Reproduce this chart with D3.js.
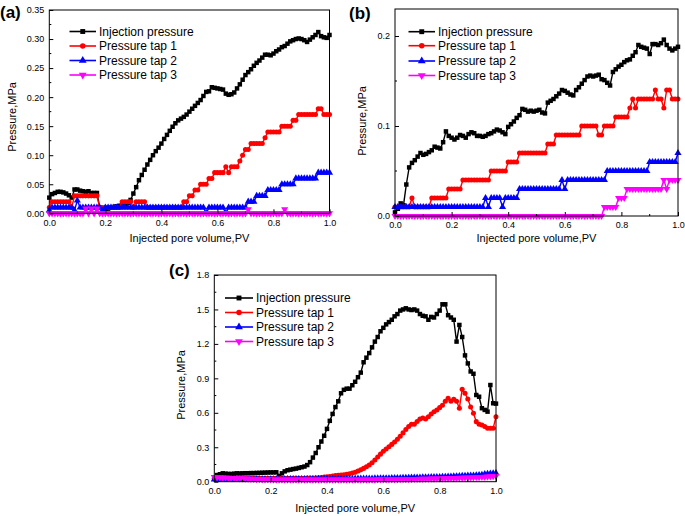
<!DOCTYPE html>
<html><head><meta charset="utf-8">
<script src="https://cdn.jsdelivr.net/npm/d3@7"></script>
<style>body{margin:0;background:#fff}svg{display:block;font-family:"Liberation Sans",Arial,sans-serif}</style>
</head><body><svg id="c" width="685" height="516"></svg>
<script>
// Injected pore volume sampling positions (PV)
const pv = d3.range(0, 101).map(i => i / 100);
const xTicks = [0, 0.2, 0.4, 0.6, 0.8, 1.0];
const seriesNames = ["Injection pressure", "Pressure tap 1", "Pressure tap 2", "Pressure tap 3"];

// ---- Panel (a) ----
const aInjection = [0.027,0.033,0.035,0.037,0.037,0.036,0.034,0.031,0.027,0.041,0.041,0.039,0.038,0.037,0.038,0.035,0.035,0.035,0.010,0.008,
0.007,0.008,0.010,0.011,0.012,0.013,0.014,0.016,0.018,0.023,0.034,0.045,0.057,0.066,0.075,0.084,0.092,0.100,0.107,0.113,
0.120,0.128,0.135,0.142,0.149,0.155,0.160,0.163,0.166,0.170,0.175,0.180,0.185,0.190,0.195,0.202,0.209,0.210,0.217,0.216,
0.215,0.214,0.213,0.206,0.204,0.205,0.208,0.215,0.222,0.230,0.238,0.243,0.248,0.254,0.259,0.263,0.268,0.273,0.273,0.272,
0.275,0.279,0.282,0.286,0.288,0.292,0.296,0.298,0.300,0.301,0.300,0.298,0.295,0.299,0.303,0.307,0.312,0.305,0.303,0.302,0.307];
const aTap1 = [0.01,0.02,0.02,0.02,0.02,0.02,0.02,0.02,0.01,0.03,0.03,0.03,0.03,0.03,0.03,0.03,0.03,0.03,0.01,0.01,
0.01,0.01,0.01,0.01,0.01,0.01,0.02,0.02,0.02,0.02,0.01,0.02,0.02,0.02,0.02,0.01,0.01,0.01,0.01,0.01,
0.01,0.01,0.01,0.01,0.01,0.01,0.01,0.01,0.02,0.02,0.03,0.03,0.04,0.04,0.05,0.05,0.05,0.06,0.06,0.07,
0.07,0.07,0.07,0.08,0.07,0.08,0.08,0.08,0.09,0.10,0.11,0.11,0.12,0.12,0.12,0.12,0.12,0.13,0.14,0.14,
0.14,0.14,0.14,0.15,0.15,0.15,0.15,0.16,0.16,0.17,0.17,0.17,0.17,0.17,0.17,0.17,0.18,0.18,0.17,0.17,0.17];
const aTap2 = [0.005,0.01,0.01,0.01,0.01,0.01,0.01,0.01,0.01,0.005,0.022,0.01,0.01,0.01,0.01,0.01,0.01,0.01,0.01,0.005,
0.01,0.01,0.01,0.01,0.01,0.01,0.01,0.01,0.01,0.01,0.01,0.01,0.01,0.01,0.01,0.01,0.01,0.01,0.01,0.01,
0.01,0.01,0.01,0.01,0.01,0.01,0.01,0.01,0.01,0.01,0.01,0.01,0.01,0.01,0.01,0.01,0.0,0.01,0.01,0.01,
0.01,0.01,0.01,0.0,0.01,0.01,0.01,0.01,0.01,0.01,0.01,0.02,0.02,0.02,0.03,0.03,0.03,0.03,0.04,0.04,
0.04,0.04,0.04,0.05,0.05,0.05,0.05,0.05,0.06,0.06,0.06,0.06,0.06,0.06,0.06,0.06,0.07,0.07,0.07,0.07,0.07];
const aTap3 = [0,0,0,0,0,0,0,0,0,0,0,0,0,0.008,0,0.008,0,0.008,0,0,
0,0,0,0,0,0,0,0,0,0,0,0,0,0,0,0,0,0,0,0,
0,0,0,0,0,0,0,0,0,0,0,0,0,0,0,0,0,0,0,0,
0,0,0,0,0,0,0,0,0,0,0,0.007,0,0,0,0,0,0,0,0,
0,0,0,0,0.007,0,0,0,0,0,0,0,0,0,0,0,0,0,0,0,0];

// ---- Panel (b) ----
const bInjection = [0.004,0.008,0.014,0.012,0.035,0.054,0.059,0.062,0.066,0.070,0.068,0.069,0.071,0.073,0.077,0.076,0.075,0.082,0.094,0.089,
0.087,0.085,0.087,0.090,0.089,0.087,0.091,0.093,0.092,0.089,0.089,0.088,0.089,0.091,0.092,0.094,0.096,0.095,0.093,0.091,
0.099,0.102,0.105,0.109,0.112,0.119,0.118,0.116,0.117,0.116,0.117,0.118,0.115,0.114,0.126,0.128,0.130,0.133,0.136,0.140,
0.139,0.137,0.135,0.134,0.140,0.143,0.147,0.151,0.155,0.156,0.155,0.156,0.157,0.152,0.151,0.148,0.145,0.160,0.163,0.166,
0.168,0.171,0.173,0.174,0.178,0.182,0.190,0.188,0.187,0.186,0.180,0.191,0.191,0.190,0.192,0.196,0.190,0.186,0.184,0.186,0.188];
const bTap1 = [0.01,0.01,0.01,0.01,0.01,0.01,0.02,0.01,0.01,0.01,0.01,0.01,0.01,0.02,0.02,0.02,0.02,0.02,0.02,0.03,
0.03,0.03,0.03,0.03,0.04,0.04,0.04,0.04,0.04,0.04,0.04,0.04,0.04,0.04,0.05,0.05,0.05,0.05,0.05,0.05,
0.06,0.06,0.06,0.06,0.07,0.07,0.07,0.07,0.07,0.07,0.07,0.07,0.07,0.07,0.08,0.08,0.08,0.09,0.09,0.09,
0.09,0.09,0.09,0.09,0.09,0.09,0.10,0.10,0.10,0.10,0.10,0.10,0.09,0.09,0.10,0.10,0.10,0.10,0.11,0.11,
0.11,0.11,0.11,0.12,0.13,0.12,0.13,0.13,0.13,0.13,0.13,0.13,0.14,0.13,0.13,0.12,0.14,0.14,0.13,0.13,0.13];
const bTap2 = [0.01,0.01,0.01,0.01,0.01,0.01,0.01,0.01,0.01,0.01,0.01,0.01,0.01,0.01,0.01,0.01,0.01,0.01,0.01,0.01,
0.01,0.01,0.01,0.01,0.01,0.01,0.01,0.01,0.01,0.01,0.01,0.01,0.02,0.01,0.02,0.02,0.02,0.02,0.01,0.02,
0.02,0.02,0.02,0.02,0.03,0.03,0.03,0.03,0.03,0.03,0.03,0.03,0.03,0.03,0.03,0.03,0.03,0.03,0.03,0.04,
0.03,0.04,0.04,0.04,0.04,0.04,0.04,0.04,0.04,0.04,0.04,0.04,0.04,0.04,0.04,0.05,0.05,0.05,0.05,0.05,
0.05,0.05,0.05,0.05,0.05,0.05,0.05,0.05,0.05,0.05,0.06,0.06,0.06,0.06,0.06,0.06,0.06,0.06,0.06,0.06,0.07];
const bTap3 = [0,0,0,0,0,0,0,0,0,0,0,0,0,0,0,0,0,0,0,0,
0,0,0,0,0,0,0,0,0,0,0,0,0,0,0,0,0,0,0,0,
0,0,0,0,0,0,0,0,0,0,0,0,0,0,0,0,0,0,0,0,
0,0,0,0,0,0,0,0,0,0,0,0,0,0,0.01,0.01,0.01,0.01,0.01,0.02,
0.02,0.02,0.03,0.03,0.03,0.03,0.03,0.03,0.03,0.03,0.03,0.03,0.03,0.03,0.03,0.04,0.03,0.04,0.04,0.04,0.04];

// ---- Panel (c) ----
const cInjection = [0.030,0.058,0.065,0.073,0.070,0.068,0.067,0.070,0.073,0.072,0.073,0.074,0.074,0.075,0.075,0.076,0.077,0.078,0.079,0.080,
0.081,0.081,0.082,0.050,0.073,0.090,0.100,0.105,0.110,0.114,0.120,0.126,0.132,0.145,0.170,0.210,0.250,0.300,0.350,0.400,
0.460,0.530,0.590,0.650,0.700,0.770,0.800,0.810,0.810,0.840,0.870,0.910,0.950,1.040,1.080,1.120,1.170,1.220,1.260,1.310,
1.340,1.370,1.390,1.410,1.440,1.460,1.490,1.500,1.510,1.500,1.495,1.500,1.490,1.460,1.445,1.440,1.410,1.435,1.430,1.460,
1.490,1.545,1.545,1.450,1.430,1.410,1.220,1.365,1.260,1.100,1.030,0.960,0.940,0.755,0.740,0.640,0.625,0.610,0.842,0.683,0.680];
const cTap1 = [0.030,0.030,0.030,0.030,0.030,0.030,0.030,0.030,0.030,0.030,0.030,0.030,0.030,0.030,0.030,0.030,0.030,0.030,0.030,0.030,
0.030,0.030,0.030,0.030,0.030,0.030,0.030,0.030,0.030,0.030,0.030,0.030,0.030,0.031,0.032,0.032,0.033,0.035,0.037,0.040,
0.043,0.046,0.050,0.053,0.056,0.058,0.060,0.065,0.070,0.076,0.083,0.093,0.103,0.116,0.130,0.145,0.165,0.189,0.215,0.240,
0.265,0.285,0.305,0.325,0.345,0.370,0.395,0.425,0.455,0.480,0.500,0.500,0.525,0.545,0.555,0.546,0.565,0.590,0.610,0.625,
0.645,0.665,0.700,0.726,0.700,0.718,0.700,0.640,0.805,0.770,0.720,0.650,0.596,0.523,0.500,0.494,0.480,0.465,0.465,0.465,0.566];
const cTap2 = [0.020,0.020,0.020,0.020,0.020,0.020,0.020,0.020,0.020,0.020,0.020,0.020,0.020,0.020,0.020,0.020,0.020,0.020,0.020,0.020,
0.020,0.020,0.020,0.020,0.020,0.020,0.022,0.022,0.022,0.022,0.022,0.022,0.022,0.022,0.022,0.022,0.024,0.024,0.024,0.024,
0.024,0.024,0.024,0.024,0.024,0.025,0.025,0.025,0.025,0.025,0.026,0.026,0.026,0.026,0.027,0.027,0.027,0.028,0.028,0.028,
0.030,0.030,0.030,0.031,0.031,0.032,0.032,0.033,0.033,0.034,0.035,0.035,0.036,0.036,0.037,0.038,0.038,0.039,0.040,0.040,
0.041,0.042,0.043,0.044,0.045,0.046,0.047,0.048,0.050,0.050,0.052,0.053,0.054,0.056,0.058,0.060,0.065,0.068,0.070,0.072,0.075];
const cTap3 = [0.040,0.038,0.036,0.035,0.034,0.033,0.032,0.031,0.030,0.029,0.028,0.027,0.026,0.025,0.024,0.023,0.022,0.021,0.020,0.020,
0.020,0.019,0.019,0.018,0.018,0.018,0.018,0.018,0.018,0.018,0.018,0.018,0.018,0.018,0.018,0.018,0.018,0.018,0.018,0.018,
0.018,0.018,0.018,0.018,0.018,0.018,0.018,0.018,0.018,0.018,0.018,0.018,0.018,0.018,0.019,0.019,0.019,0.019,0.020,0.020,
0.020,0.020,0.020,0.021,0.021,0.021,0.022,0.022,0.022,0.023,0.023,0.024,0.024,0.025,0.025,0.026,0.026,0.027,0.027,0.028,
0.028,0.029,0.029,0.030,0.030,0.031,0.032,0.033,0.034,0.035,0.036,0.037,0.038,0.039,0.040,0.041,0.042,0.044,0.046,0.048,0.050];

const aYTicks = [0, 0.05, 0.10, 0.15, 0.20, 0.25, 0.30, 0.35];
const bYTicks = [0, 0.1, 0.2];
const cYTicks = [0, 0.3, 0.6, 0.9, 1.2, 1.5, 1.8];

const colors = ["#000000", "#ff0000", "#0000ff", "#ff00ff"];
const symbols = [d3.symbolSquare, d3.symbolCircle, d3.symbolTriangle, d3.symbolTriangle];
const symSizes = [20, 20, 22, 22];
const rot = [0, 0, 0, 180];

const svg = d3.select("#c");

function panel(cfg) {
  const x = d3.scaleLinear().domain([0, 1]).range([cfg.x0, cfg.x1]);
  const y = d3.scaleLinear().domain([0, cfg.ymax]).range([cfg.y1, cfg.y0]);
  const g = svg.append("g");
  const fmtY = cfg.fmtY;

  cfg.series.forEach((vals, k) => {
    const pts = vals.map((v, i) => [pv[i], v]);
    g.append("path").datum(pts)
      .attr("fill", "none").attr("stroke", colors[k]).attr("stroke-width", 1.4)
      .attr("d", d3.line().x(d => x(d[0])).y(d => y(d[1])));
    const sym = d3.symbol().type(symbols[k]).size(symSizes[k]);
    g.append("g").selectAll("path").data(pts).join("path")
      .attr("d", sym).attr("fill", colors[k])
      .attr("transform", d => `translate(${x(d[0])},${y(d[1])}) rotate(${rot[k]})`);
  });

  const ax = g.append("g").attr("transform", `translate(0,${cfg.y1})`)
    .call(d3.axisBottom(x).tickValues(xTicks).tickFormat(d3.format(".1f")).tickSizeInner(-4).tickSizeOuter(0).tickPadding(6));
  const ay = g.append("g").attr("transform", `translate(${cfg.x0},0)`)
    .call(d3.axisLeft(y).tickValues(cfg.yTicks).tickFormat(fmtY).tickSizeInner(-4).tickSizeOuter(0).tickPadding(5));
  [ax, ay].forEach(a => {
    a.select(".domain").remove();
    a.selectAll("text").attr("font-size", 9).attr("fill", "#000");
    a.selectAll("line").attr("stroke", "#000");
  });
  g.append("g").selectAll("line").data(cfg.xMinor).join("line")
    .attr("x1", d => x(d)).attr("x2", d => x(d)).attr("y1", cfg.y1).attr("y2", cfg.y1 - 2).attr("stroke", "#000");
  g.append("g").selectAll("line").data(cfg.yMinor).join("line")
    .attr("y1", d => y(d)).attr("y2", d => y(d)).attr("x1", cfg.x0).attr("x2", cfg.x0 + 2).attr("stroke", "#000");
  g.append("rect").attr("x", cfg.x0).attr("y", cfg.y0).attr("width", cfg.x1 - cfg.x0).attr("height", cfg.y1 - cfg.y0)
    .attr("fill", "none").attr("stroke", "#000").attr("stroke-width", 1);

  g.append("text").attr("x", (cfg.x0 + cfg.x1) / 2).attr("y", cfg.xTitleY).attr("text-anchor", "middle")
    .attr("font-size", 11).text("Injected pore volume,PV");
  g.append("text").attr("transform", `translate(${cfg.yTitleX},${cfg.yTitleCY}) rotate(-90)`).attr("text-anchor", "middle")
    .attr("font-size", 11).text("Pressure,MPa");
  g.append("text").attr("x", cfg.labX).attr("y", cfg.labY).attr("font-size", 17).attr("font-weight", "bold").text(cfg.label);

  const lg = g.append("g");
  seriesNames.forEach((name, k) => {
    const ly = cfg.legY[k];
    lg.append("line").attr("x1", cfg.legX0).attr("x2", cfg.legX1).attr("y1", ly).attr("y2", ly)
      .attr("stroke", colors[k]).attr("stroke-width", 1.6);
    lg.append("path").attr("d", d3.symbol().type(symbols[k]).size(symSizes[k] * 1.2)())
      .attr("fill", colors[k]).attr("transform", `translate(${(cfg.legX0 + cfg.legX1) / 2},${ly}) rotate(${rot[k]})`);
    lg.append("text").attr("x", cfg.legX1 + 3).attr("y", ly).attr("dy", "0.35em").attr("font-size", 12).text(name);
  });
}

panel({label: "(a)", labX: 0, labY: 18, x0: 49.3, x1: 329.5, y0: 10, y1: 213.3, ymax: 0.35,
  yTicks: aYTicks, fmtY: d3.format(".2f"), xMinor: [0.1,0.3,0.5,0.7,0.9], yMinor: [0.025,0.075,0.125,0.175,0.225,0.275,0.325],
  series: [aInjection, aTap1, aTap2, aTap3], xTitleY: 242, yTitleX: 16, yTitleCY: 117,
  legX0: 69.5, legX1: 96, legY: [31.5, 46, 60.5, 75]});
panel({label: "(b)", labX: 349, labY: 19, x0: 395, x1: 678, y0: 9, y1: 216, ymax: 0.23,
  yTicks: bYTicks, fmtY: d3.format(".1f"), xMinor: [0.1,0.3,0.5,0.7,0.9], yMinor: [0.05,0.15],
  series: [bInjection, bTap1, bTap2, bTap3], xTitleY: 242, yTitleX: 366, yTitleCY: 121,
  legX0: 408.5, legX1: 435, legY: [31.7, 45.7, 61, 75.5]});
panel({label: "(c)", labX: 169, labY: 276, x0: 214.3, x1: 496, y0: 275, y1: 481.7, ymax: 1.8,
  yTicks: cYTicks, fmtY: d3.format(".1f"), xMinor: [0.1,0.3,0.5,0.7,0.9], yMinor: [0.15,0.45,0.75,1.05,1.35,1.65],
  series: [cInjection, cTap1, cTap2, cTap3], xTitleY: 512, yTitleX: 185, yTitleCY: 385,
  legX0: 225, legX1: 253, legY: [298, 312.5, 327, 341.5]});
</script></body></html>
